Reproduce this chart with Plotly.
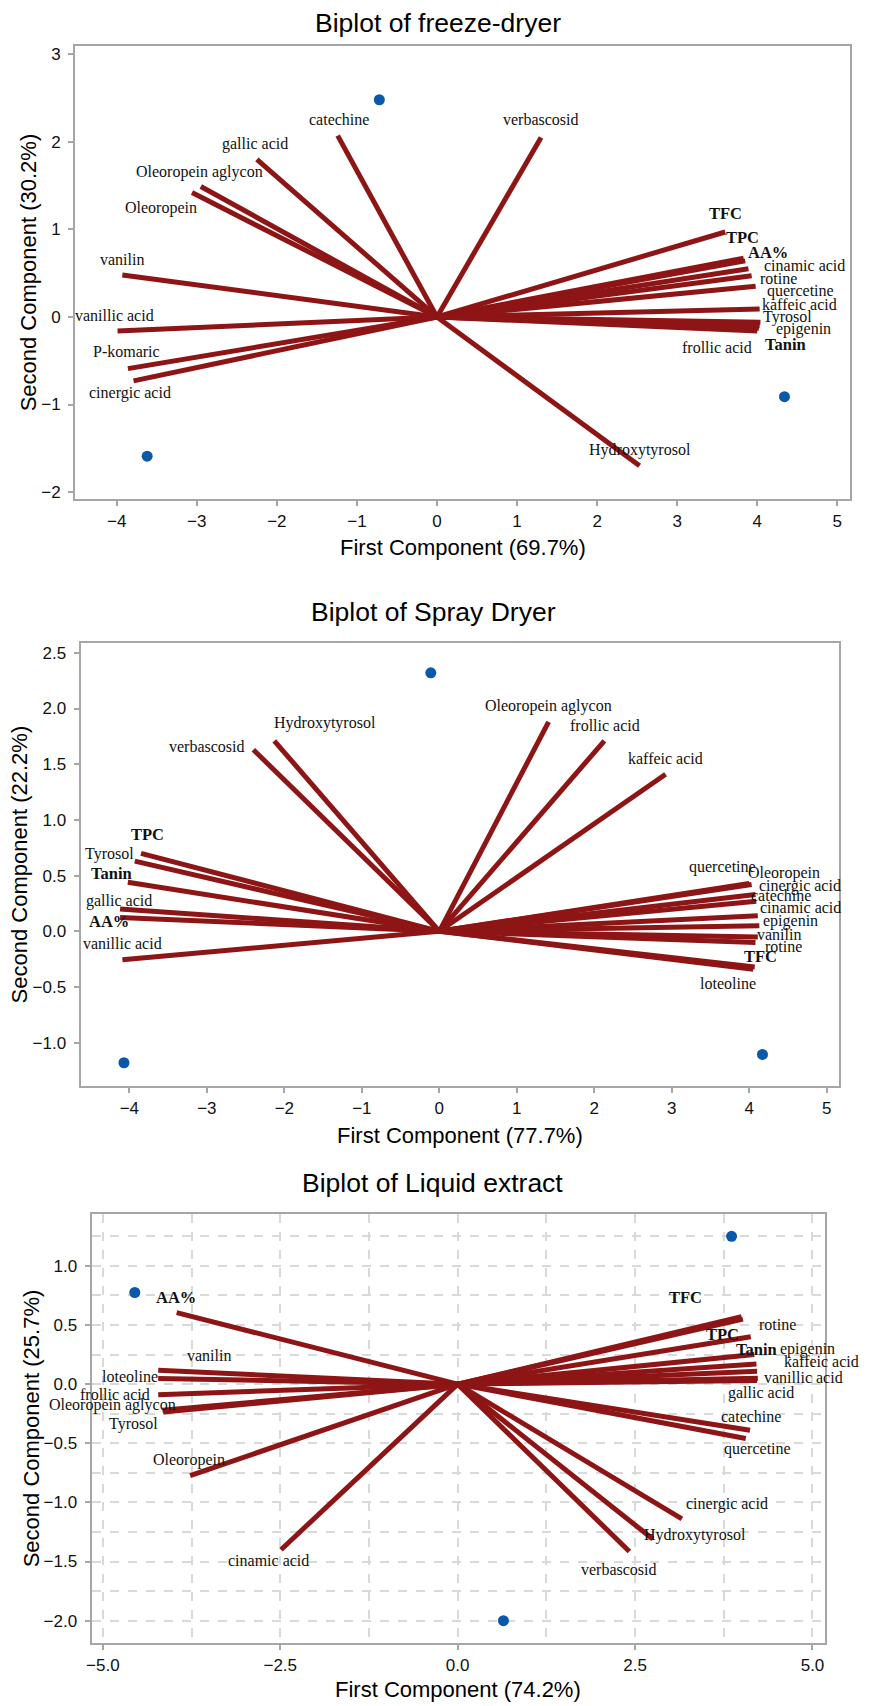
import plotly.graph_objects as go

# ---------------- Freeze-dryer ----------------
fd_vars = ["catechine", "verbascosid", "gallic acid", "Oleoropein aglycon", "Oleoropein",
           "vanilin", "vanillic acid", "P-komaric", "cinergic acid", "Hydroxytyrosol",
           "TFC", "TPC", "AA%", "cinamic acid", "rotine", "quercetine", "kaffeic acid",
           "Tyrosol", "epigenin", "Tanin", "frollic acid"]
fd_pc1 = [-1.24, 1.30, -2.25, -2.95, -3.06, -3.93, -3.99, -3.86, -3.79, 2.53,
          3.60, 3.83, 3.85, 3.89, 3.93, 3.98, 4.03, 4.04, 4.03, 4.02, 4.00]
fd_pc2 = [2.07, 2.05, 1.80, 1.49, 1.42, 0.48, -0.16, -0.59, -0.73, -1.70,
          0.97, 0.67, 0.64, 0.55, 0.47, 0.35, 0.09, -0.06, -0.10, -0.13, -0.16]
fd_lab_x = [-1.23, 1.30, -2.27, -2.97, -3.45, -3.93, -4.03, -3.88, -3.83, 2.54,
            3.60, 3.82, 4.13, 4.59, 4.26, 4.54, 4.53, 4.38, 4.58, 4.35, 3.50]
fd_lab_y = [2.25, 2.25, 1.98, 1.66, 1.24, 0.66, 0.02, -0.39, -0.87, -1.52,
            1.18, 0.91, 0.74, 0.59, 0.44, 0.30, 0.14, 0.00, -0.14, -0.31, -0.35]
fd_score_pc1 = [-0.72, 4.34, -3.62]
fd_score_pc2 = [2.48, -0.91, -1.59]

# ---------------- Spray Dryer ----------------
sd_vars = ["Hydroxytyrosol", "verbascosid", "Oleoropein aglycon", "frollic acid", "kaffeic acid",
           "TPC", "Tyrosol", "Tanin", "gallic acid", "AA%", "vanillic acid",
           "quercetine", "Oleoropein", "cinergic acid", "catechine", "cinamic acid",
           "epigenin", "vanilin", "rotine", "TFC", "loteoline"]
sd_pc1 = [-2.13, -2.40, 1.41, 2.13, 2.92, -3.85, -3.93, -4.02, -4.12, -4.12, -4.09,
          4.00, 4.03, 4.08, 4.09, 4.11, 4.13, 4.11, 4.08, 4.07, 4.05]
sd_pc2 = [1.71, 1.63, 1.88, 1.71, 1.41, 0.70, 0.63, 0.44, 0.20, 0.125, -0.255,
          0.43, 0.42, 0.33, 0.27, 0.14, 0.05, -0.05, -0.10, -0.32, -0.34]
sd_lab_x = [-1.47, -3.00, 1.41, 2.14, 2.92, -3.76, -4.26, -4.23, -4.13, -4.26, -4.09,
            3.66, 4.45, 4.66, 4.41, 4.66, 4.53, 4.38, 4.44, 4.15, 3.72]
sd_lab_y = [1.87, 1.66, 2.02, 1.85, 1.55, 0.87, 0.69, 0.52, 0.275, 0.09, -0.11,
            0.58, 0.52, 0.41, 0.32, 0.21, 0.09, -0.03, -0.14, -0.23, -0.47]
sd_score_pc1 = [-0.11, -4.07, 4.17]
sd_score_pc2 = [2.32, -1.18, -1.105]

# ---------------- Liquid extract ----------------
le_vars = ["AA%", "vanilin", "loteoline", "frollic acid", "Oleoropein aglycon", "Tyrosol",
           "Oleoropein", "cinamic acid", "verbascosid", "Hydroxytyrosol", "cinergic acid",
           "TFC", "rotine", "TPC", "Tanin", "epigenin", "kaffeic acid", "vanillic acid",
           "gallic acid", "catechine", "quercetine"]
le_pc1 = [-3.96, -4.22, -4.22, -4.22, -4.16, -4.15, -3.77, -2.49, 2.42, 2.75, 3.16,
          4.00, 4.02, 4.13, 4.18, 4.21, 4.22, 4.23, 4.22, 4.12, 4.06]
le_pc2 = [0.605, 0.118, 0.048, -0.089, -0.22, -0.235, -0.773, -1.40, -1.415, -1.31, -1.14,
          0.57, 0.55, 0.40, 0.25, 0.17, 0.11, 0.05, 0.03, -0.39, -0.46]
le_lab_x = [-3.97, -3.51, -4.62, -4.83, -4.86, -4.57, -3.79, -2.67, 2.27, 3.34, 3.80,
            3.21, 4.50, 3.73, 4.21, 4.93, 5.12, 4.87, 4.27, 4.13, 4.23]
le_lab_y = [0.73, 0.24, 0.065, -0.084, -0.18, -0.34, -0.64, -1.49, -1.57, -1.275, -1.015,
            0.73, 0.506, 0.42, 0.295, 0.30, 0.19, 0.056, -0.076, -0.275, -0.55]
le_score_pc1 = [3.86, -4.55, 0.645]
le_score_pc2 = [1.25, 0.775, -2.0]

bold_vars = ["TFC", "TPC", "AA%", "Tanin"]

titles = ["Biplot of freeze-dryer", "Biplot of Spray Dryer", "Biplot of Liquid extract"]
x_titles = ["First Component (69.7%)", "First Component (77.7%)", "First Component (74.2%)"]
y_titles = ["Second Component (30.2%)", "Second Component (22.2%)", "Second Component (25.7%)"]

W, H = 870, 1706
LINE_COLOR = "#8E1515"
PT_COLOR = "#0A58A8"
FRAME = "#A6A6A6"
SANS = "Liberation Sans, Arial, sans-serif"
SERIF = "Liberation Serif, Times New Roman, serif"

# frame boxes in pixels: (left, right, top, bottom)
boxes = [(70.5, 850, 45, 499.3), (76, 839, 643.3, 1087.7), (87, 825, 1215.7, 1646)]
xranges = [[-4.52, 5.16], [-4.63, 5.16], [-5.16, 5.18]]
yranges = [[-2.08, 3.095], [-1.39, 2.59], [-2.19, 1.44]]
title_y = [22, 612, 1185]
title_x = [435, 431, 430]
xtitle_y = [548, 1137, 1692]
ytitle_x = [24, 15, 27]

panels = [
    (fd_vars, fd_pc1, fd_pc2, fd_lab_x, fd_lab_y, fd_score_pc1, fd_score_pc2),
    (sd_vars, sd_pc1, sd_pc2, sd_lab_x, sd_lab_y, sd_score_pc1, sd_score_pc2),
    (le_vars, le_pc1, le_pc2, le_lab_x, le_lab_y, le_score_pc1, le_score_pc2),
]

fig = go.Figure()
annotations = []
layout = {}

for i, (names, px, py, lx, ly, sx, sy) in enumerate(panels):
    n = "" if i == 0 else str(i + 1)
    xa, ya = "x" + n, "y" + n
    lxs, lys = [], []
    for a, b in zip(px, py):
        lxs += [0, a, None]
        lys += [0, b, None]
    fig.add_trace(go.Scatter(x=lxs, y=lys, mode="lines", xaxis=xa, yaxis=ya,
                             line=dict(color=LINE_COLOR, width=5), showlegend=False,
                             hoverinfo="skip"))
    fig.add_trace(go.Scatter(x=sx, y=sy, mode="markers", xaxis=xa, yaxis=ya,
                             marker=dict(color=PT_COLOR, size=11), showlegend=False))
    for name, tx, ty in zip(names, lx, ly):
        bold = name in bold_vars
        annotations.append(dict(
            x=tx, y=ty, xref=xa, yref=ya, showarrow=False,
            text="<b>%s</b>" % name if bold else name,
            font=dict(family=SERIF, size=16.5 if bold else 16, color="#111111"),
            xanchor="center", yanchor="middle"))

    L, R, T, B = boxes[i]
    common = dict(showline=True, mirror=True, linecolor=FRAME, linewidth=2,
                  ticks="outside", ticklen=5, tickcolor=FRAME, tickwidth=1.5,
                  zeroline=False, tickfont=dict(family=SANS, size=17, color="#111111"))
    xaxis = dict(domain=[L / W, R / W], anchor=ya, range=xranges[i], **common)
    yaxis = dict(domain=[1 - B / H, 1 - T / H], anchor=xa, range=yranges[i],
                 ticklabelstandoff=4, **common)
    if i == 0:
        xaxis.update(tickmode="array", tickvals=[-4, -3, -2, -1, 0, 1, 2, 3, 4, 5], showgrid=False)
        yaxis.update(tickmode="array", tickvals=[-2, -1, 0, 1, 2, 3], showgrid=False)
    elif i == 1:
        xaxis.update(tickmode="array", tickvals=[-4, -3, -2, -1, 0, 1, 2, 3, 4, 5], showgrid=False)
        yaxis.update(tickmode="linear", tick0=0, dtick=0.5, tickformat=".1f", showgrid=False)
    else:
        grid = dict(showgrid=True, gridcolor="#D9D9D9", gridwidth=1.5, griddash="dash")
        xaxis.update(tickmode="linear", tick0=0, dtick=2.5, tickformat=".1f", **grid,
                     minor=dict(dtick=1.25, tick0=0, ticks="", **grid))
        yaxis.update(tickmode="linear", tick0=0, dtick=0.5, tickformat=".1f", **grid,
                     minor=dict(dtick=0.25, tick0=0, ticks="", **grid))
    layout["xaxis" + n] = xaxis
    layout["yaxis" + n] = yaxis

    annotations.append(dict(x=title_x[i] / W, y=1 - title_y[i] / H, xref="paper", yref="paper",
                            text=titles[i], showarrow=False, xanchor="center", yanchor="middle",
                            font=dict(family=SANS, size=26.5, color="#000000")))
    annotations.append(dict(x=(L + R) / 2 / W, y=1 - xtitle_y[i] / H, xref="paper", yref="paper",
                            text=x_titles[i], showarrow=False, xanchor="center", yanchor="middle",
                            font=dict(family=SANS, size=22, color="#000000")))
    annotations.append(dict(x=ytitle_x[i] / W, y=1 - (T + B) / 2 / H, xref="paper", yref="paper",
                            text=y_titles[i], showarrow=False, xanchor="center", yanchor="middle",
                            textangle=-90,
                            font=dict(family=SANS, size=22, color="#000000")))

fig.update_layout(width=W, height=H, margin=dict(l=0, r=0, t=0, b=0),
                  paper_bgcolor="white", plot_bgcolor="white",
                  annotations=annotations, **layout)

fig.write_html("out.html")
